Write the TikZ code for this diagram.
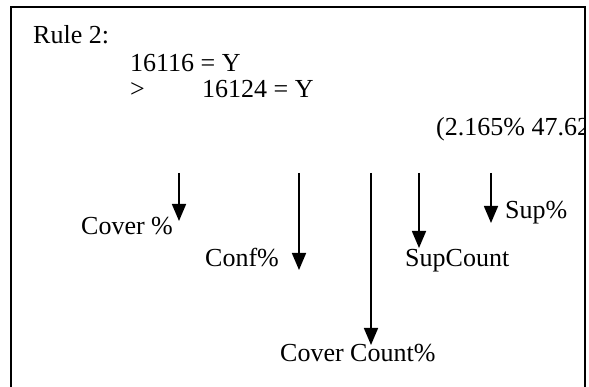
\documentclass[tikz,border=0pt]{standalone}
\usepackage{fontspec}
\setmainfont{Liberation Serif}
\usetikzlibrary{arrows.meta}
\tikzset{
  lbl/.style={anchor=base west, inner sep=0pt, font=\fontsize{26}{30}\selectfont},
  frameline/.style={line width=1.6pt, black},
  downarrow/.style={line width=1.6pt, -{Triangle[length=17pt,width=14pt]}},
}
\begin{document}
\begin{tikzpicture}[x=1pt,y=-1pt]
\useasboundingbox (0,0) rectangle (589,387);
\draw[frameline] (11,390) -- (11,7) -- (585,7) -- (585,390);
\node[lbl] (rule) at (33,44) {Rule 2:};
\node[lbl] (ante) at (130,72) {16116 = Y};
\node[lbl] (gt) at (130,98) {>};
\node[lbl] (cons) at (202,98) {16124 = Y};
\begin{scope}
  \clip (0,0) rectangle (584,387);
  \node[lbl] (stats) at (436,136) {(2.165\% 47.62};
\end{scope}
\coordinate (a1s) at (179,173); \coordinate (a1e) at (179,221);
\coordinate (a2s) at (299,173); \coordinate (a2e) at (299,270);
\coordinate (a3s) at (371,173); \coordinate (a3e) at (371,345);
\coordinate (a4s) at (419,173); \coordinate (a4e) at (419,248);
\coordinate (a5s) at (491,173); \coordinate (a5e) at (491,223);
\draw[downarrow] (a1s) -- (a1e);
\draw[downarrow] (a2s) -- (a2e);
\draw[downarrow] (a3s) -- (a3e);
\draw[downarrow] (a4s) -- (a4e);
\draw[downarrow] (a5s) -- (a5e);
\node[lbl] (cover) at (81,235) {Cover \%};
\node[lbl] (conf) at (205,267) {Conf\%};
\node[lbl] (supcount) at (405,267) {SupCount};
\node[lbl] (sup) at (505,219) {Sup\%};
\node[lbl] (covercount) at (280,361) {Cover Count\%};
\end{tikzpicture}
\end{document}
